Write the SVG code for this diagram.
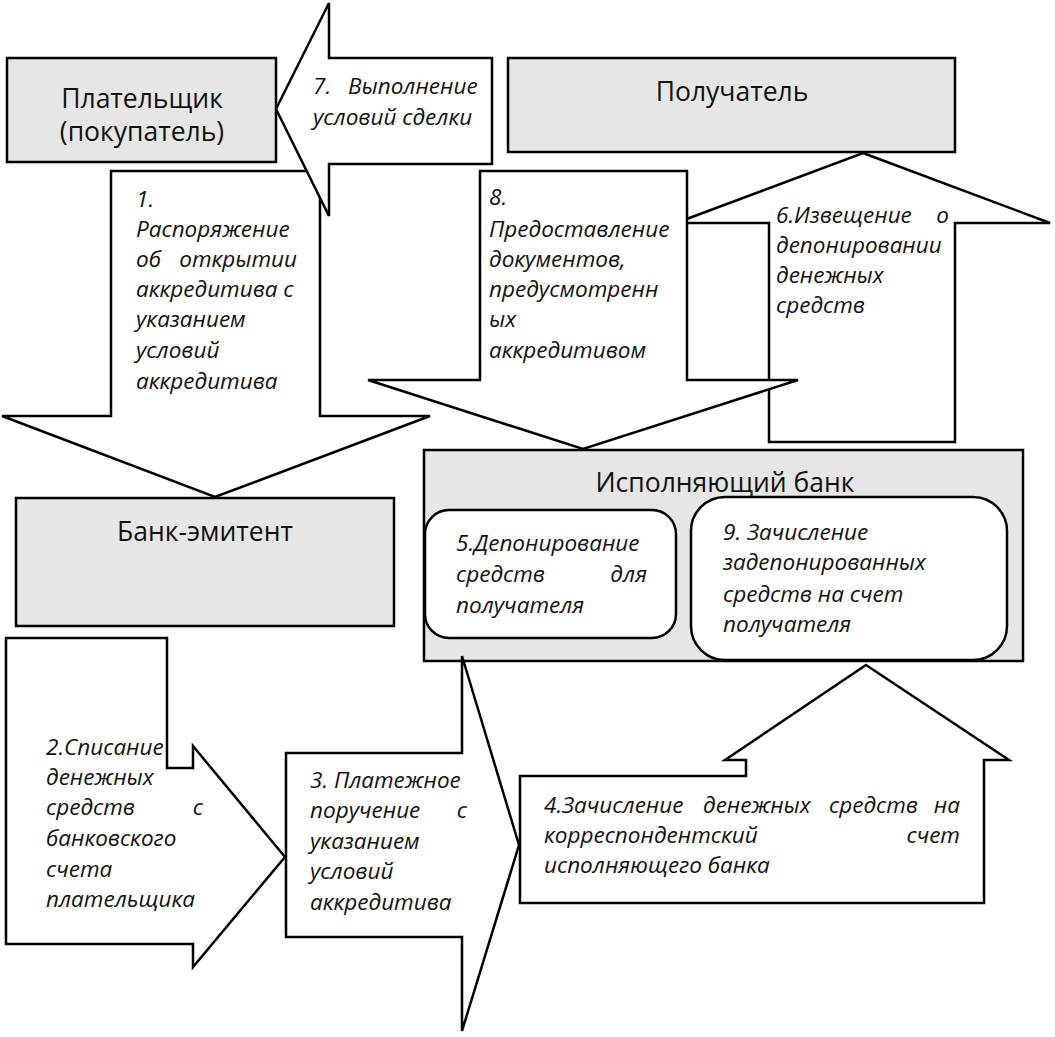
<svg xmlns="http://www.w3.org/2000/svg" width="1055" height="1037" viewBox="0 0 1055 1037">
<style>
.box{fill:#e6e6e6;stroke:#000;stroke-width:2.5}
.arr{fill:#fff;stroke:#000;stroke-width:2.5;stroke-linejoin:miter}
.rb{fill:#fff;stroke:#000;stroke-width:2.5}
.t{font-family:"Open Sans","Noto Sans",sans-serif;font-size:26.5px;fill:#111;text-anchor:middle}
.l{font-family:"Open Sans","Noto Sans",sans-serif;font-size:22.5px;font-style:italic;fill:#111}
.e{text-anchor:end}
</style>
<rect width="1055" height="1037" fill="#fff"/>
<g id="connectors">
<g id="arrow1">
<polygon class="arr" points="111,171 320,171 320,416 430,416 215,497 2,416 111,416"/>
<text class="l" x="136" y="207">1.</text>
<text class="l" x="136" y="237">Распоряжение</text>
<text class="l" x="136" y="267">об</text><text class="l e" x="297" y="267">открытии</text>
<text class="l" x="136" y="297">аккредитива с</text>
<text class="l" x="136" y="327">указанием</text>
<text class="l" x="136" y="358">условий</text>
<text class="l" x="136" y="389">аккредитива</text>
</g>
<g id="arrow7">
<polygon class="arr" points="492,58 329,58 329,3 276,109 329,216 329,164 492,164"/>
<text class="l" x="313" y="94">7.</text><text class="l" x="348" y="94">Выполнение</text>
<text class="l" x="313" y="125">условий сделки</text>
</g>
<g id="arrow6">
<polygon class="arr" points="863,153 1050,223 955,223 955,442 769,442 769,223 676,223"/>
<text class="l" x="776" y="223">6.Извещение</text><text class="l e" x="949" y="223">о</text>
<text class="l" x="776" y="253">депонировании</text>
<text class="l" x="776" y="283">денежных</text>
<text class="l" x="776" y="313">средств</text>
</g>
<g id="arrow8">
<polygon class="arr" points="480,171 687,171 687,380 798,380 583,449 368,380 480,380"/>
<text class="l" x="489" y="205">8.</text>
<text class="l" x="489" y="237">Предоставление</text>
<text class="l" x="489" y="267">документов,</text>
<text class="l" x="489" y="297">предусмотренн</text>
<text class="l" x="489" y="327">ых</text>
<text class="l" x="489" y="358">аккредитивом</text>
</g>
</g>
<g id="payer">
<rect class="box" x="7" y="58" width="269" height="104"/>
<text class="t" x="142" y="108">Плательщик</text>
<text class="t" x="142" y="141">(покупатель)</text>
</g>
<g id="recipient">
<rect class="box" x="508" y="58" width="447" height="94"/>
<text class="t" x="732" y="101">Получатель</text>
</g>
<g id="issuing-bank">
<rect class="box" x="16" y="498" width="378" height="128"/>
<text class="t" x="205" y="541">Банк-эмитент</text>
</g>
<g id="executing-bank">
<rect class="box" x="424" y="450" width="599" height="211"/>
<text class="t" x="725" y="492">Исполняющий банк</text>
<g id="step5">
<rect class="rb" x="425" y="510" width="251" height="128" rx="24" ry="24"/>
<text class="l" x="456" y="551">5.Депонирование</text>
<text class="l" x="456" y="582">средств</text><text class="l e" x="647" y="582">для</text>
<text class="l" x="456" y="613">получателя</text>
</g>
<g id="step9">
<rect class="rb" x="691" y="497" width="316" height="163" rx="34" ry="34"/>
<text class="l" x="723" y="540">9. Зачисление</text>
<text class="l" x="723" y="570">задепонированных</text>
<text class="l" x="723" y="602">средств на счет</text>
<text class="l" x="723" y="632">получателя</text>
</g>
</g>
<g id="connectors2">
<g id="arrow2">
<polygon class="arr" points="6,638 167,638 167,768 193,768 193,746 285,857 193,967 193,944 6,944"/>
<text class="l" x="46" y="755">2.Списание</text>
<text class="l" x="46" y="785">денежных</text>
<text class="l" x="46" y="815">средств</text><text class="l e" x="203" y="815">с</text>
<text class="l" x="46" y="846">банковского</text>
<text class="l" x="46" y="877">счета</text>
<text class="l" x="46" y="907">плательщика</text>
</g>
<g id="arrow3">
<polygon class="arr" points="286,753 462,753 462,656 519,845 462,1031 462,937 286,937"/>
<text class="l" x="310" y="788">3. Платежное</text>
<text class="l" x="310" y="818">поручение</text><text class="l e" x="467" y="818">с</text>
<text class="l" x="310" y="849">указанием</text>
<text class="l" x="310" y="879">условий</text>
<text class="l" x="310" y="910">аккредитива</text>
</g>
<g id="arrow4">
<polygon class="arr" points="866,665 1009,760 984,760 984,903 520,903 520,776 746,776 746,760 725,760"/>
<text class="l" x="544" y="813">4.Зачисление</text><text class="l" x="703" y="813">денежных</text><text class="l" x="829" y="813">средств</text><text class="l e" x="960" y="813">на</text>
<text class="l" x="544" y="843">корреспондентский</text><text class="l e" x="960" y="843">счет</text>
<text class="l" x="544" y="873">исполняющего банка</text>
</g>
</g>
</svg>
